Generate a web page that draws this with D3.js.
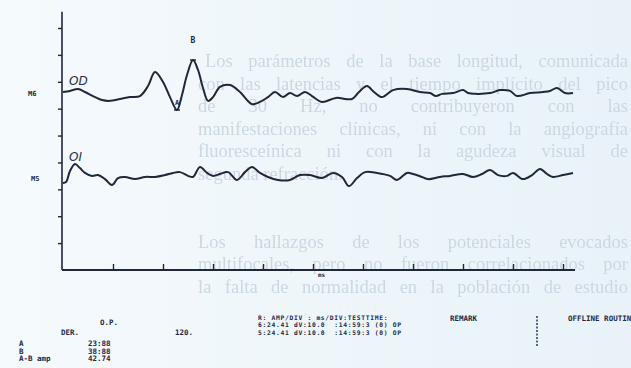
<!DOCTYPE html>
<html>
<head>
<meta charset="utf-8">
<script src="https://cdn.jsdelivr.net/npm/d3@7"></script>
<style>
  html, body { margin: 0; padding: 0; background: #eef6fa; }
  svg { display: block; }
</style>
</head>
<body>
<svg id="chart" width="631" height="368"></svg>
<script>
// Visual evoked potential record: two channels, latency in ms, amplitude in divisions.
const timeMs = [0, 7, 15, 22, 32, 39, 47, 57, 67, 77, 85, 92, 100, 107, 114, 119, 124, 130, 135, 140, 145, 150, 157, 167, 177, 189, 197, 205, 212, 220, 227, 234, 242, 249, 259, 273, 289, 296, 304, 311, 319, 330, 344, 357, 367, 373, 379, 390, 400, 405, 414, 427, 437, 447, 454, 467, 480, 487, 494, 502, 510];
const odValues = [6.62, 6.66, 6.73, 6.62, 6.43, 6.32, 6.29, 6.36, 6.43, 6.47, 6.84, 7.36, 6.99, 6.43, 5.95, 6.51, 7.25, 7.81, 7.44, 6.77, 6.29, 6.43, 6.81, 6.88, 6.62, 6.17, 6.25, 6.43, 6.62, 6.43, 6.58, 6.47, 6.62, 6.47, 6.25, 6.40, 6.36, 6.62, 6.84, 6.62, 6.43, 6.69, 6.73, 6.62, 6.58, 6.47, 6.55, 6.58, 6.69, 6.58, 6.55, 6.58, 6.69, 6.66, 6.47, 6.58, 6.62, 6.66, 6.77, 6.58, 6.58];

const oiTimeMs = [0, 3, 7, 12, 17, 22, 29, 35, 42, 49, 55, 62, 72, 82, 92, 102, 110, 117, 125, 130, 137, 144, 150, 157, 165, 174, 182, 189, 197, 205, 215, 227, 237, 247, 259, 270, 279, 286, 294, 302, 314, 327, 334, 344, 350, 359, 365, 377, 387, 400, 410, 419, 427, 435, 444, 450, 460, 469, 477, 484, 490, 500, 510];
const oiValues = [3.24, 3.27, 3.68, 3.94, 3.79, 3.61, 3.50, 3.53, 3.38, 3.16, 3.42, 3.46, 3.38, 3.46, 3.46, 3.53, 3.61, 3.64, 3.50, 3.46, 3.83, 3.61, 3.50, 3.57, 3.64, 3.35, 3.64, 3.83, 3.61, 3.46, 3.35, 3.35, 3.53, 3.53, 3.42, 3.61, 3.46, 3.12, 3.42, 3.64, 3.61, 3.50, 3.35, 3.61, 3.57, 3.46, 3.38, 3.46, 3.50, 3.57, 3.46, 3.57, 3.72, 3.53, 3.50, 3.61, 3.38, 3.53, 3.76, 3.57, 3.46, 3.53, 3.61];

const xTicks = [50, 100, 150, 200, 250, 300, 350, 400, 450, 500];
const yTicks = [1, 2, 3, 4, 5, 6, 7, 8, 9];

// Peak markers on the OD trace
const peakNames = ["A", "B"];
const peakTimes = [114, 130];
const peakValues = [5.95, 7.81];

// Printed report lines
const headerTexts = ["DER.", "O.P.", "120."];
const peakRowLabels = ["A", "B", "A-B amp"];
const peakRowValues = ["23:88", "38:88", "42.74"];
const settingLines = ["R: AMP/DIV : ms/DIV:TESTTIME:", "6:24.41 dV:10.0  :14:59:3 (0) OP", "5:24.41 dV:10.0  :14:59:3 (0) OP"];

// Text of the facing page showing through the paper (justified column)
const pageLines = [
  "Los parámetros de la base longitud, comunicada",
  "con las latencias y el tiempo implícito del pico",
  "de 30 Hz, no contribuyeron con las",
  "manifestaciones clínicas, ni con la angiografía",
  "fluoresceínica ni con la agudeza visual de",
  "segunda refracción.",
  "",
  "",
  "Los hallazgos de los potenciales evocados",
  "multifocales, pero no fueron correlacionados por",
  "la falta de normalidad en la población de estudio"
];
const pageLineEnds = [false, false, false, false, false, true, true, true, false, false, false];

const svg = d3.select("#chart");
const W = 631, H = 368;

const defs = svg.append("defs");
const grad = defs.append("linearGradient").attr("id", "paper").attr("x1", 0).attr("x2", 1).attr("y1", 0).attr("y2", 0);
grad.append("stop").attr("offset", "0%").attr("stop-color", "#f5fafd");
grad.append("stop").attr("offset", "100%").attr("stop-color", "#e8f2f8");
svg.append("rect").attr("width", W).attr("height", H).attr("fill", "url(#paper)");
defs.append("filter").attr("id", "soft").append("feGaussianBlur").attr("stdDeviation", 0.6);

// faint text from the other side of the sheet, justified by widening the word gaps
const colRight = 628;
svg.append("g").attr("filter", "url(#soft)")
  .selectAll("text")
  .data(pageLines)
  .join("text")
  .attr("x", (d, i) => i === 0 ? 205 : 198)
  .attr("y", (d, i) => 67 + i * 22.6)
  .attr("font-family", "Liberation Serif, serif")
  .attr("font-size", 18.5)
  .attr("fill", "#cbd8e1")
  .text(d => d)
  .each(function(d, i) {
    if (pageLineEnds[i] || !d) return;
    const gaps = d.split(" ").length - 1;
    const x0 = +this.getAttribute("x");
    const natural = this.getComputedTextLength();
    const extra = (colRight - x0 - natural) / gaps;
    if (gaps > 0 && extra > 0) d3.select(this).attr("word-spacing", extra);
  });

const ink = "#1f2838";

const x = d3.scaleLinear().domain([0, 512]).range([63, 575]);
const y = d3.scaleLinear().domain([0, 9]).range([270, 28]);

// y axis with ticks to the left
const yAxis = d3.axisLeft(y).tickValues(yTicks).tickSize(4).tickFormat("");
const gy = svg.append("g").attr("transform", `translate(${x(0) - 1},0)`).call(yAxis);
gy.select(".domain").attr("d", `M0,${y(9.6)}V${y(0)}`).attr("stroke", ink).attr("stroke-width", 1.6);
gy.selectAll(".tick line").attr("stroke", ink).attr("stroke-width", 1.4);

// x axis with ticks pointing up
const xAxis = d3.axisTop(x).tickValues(xTicks).tickSize(6).tickFormat("");
const gx = svg.append("g").attr("transform", `translate(0,${y(0)})`).call(xAxis);
gx.select(".domain").attr("d", `M${x(0) - 1},0H${x(512)}`).attr("stroke", ink).attr("stroke-width", 1.8);
gx.selectAll(".tick line").attr("stroke", ink).attr("stroke-width", 1.4);

svg.append("text").attr("x", x(255)).attr("y", y(0) + 7)
  .attr("font-family", "DejaVu Sans Mono, monospace").attr("font-weight", "bold")
  .attr("font-size", 6).attr("fill", ink).text("ms");

const line = d3.line().curve(d3.curveCatmullRom.alpha(0.5));

svg.append("path")
  .attr("d", line(timeMs.map((t, i) => [x(t), y(odValues[i])])))
  .attr("fill", "none").attr("stroke", ink).attr("stroke-width", 2)
  .attr("stroke-linejoin", "round");

svg.append("path")
  .attr("d", line(oiTimeMs.map((t, i) => [x(t), y(oiValues[i])])))
  .attr("fill", "none").attr("stroke", ink).attr("stroke-width", 2)
  .attr("stroke-linejoin", "round");

// channel names
const chanFont = "DejaVu Sans Mono, monospace";
svg.append("text").attr("x", 28).attr("y", y(odValues[0]) + 4)
  .attr("font-family", chanFont).attr("font-weight", "bold").attr("font-size", 7).attr("fill", ink).text("M6");
svg.append("text").attr("x", 31).attr("y", y(oiValues[0]) - 2)
  .attr("font-family", chanFont).attr("font-weight", "bold").attr("font-size", 7).attr("fill", ink).text("M5");

// handwritten eye labels
svg.append("text").attr("x", 69).attr("y", y(odValues[2]) - 4)
  .attr("font-family", "DejaVu Sans, sans-serif").attr("font-style", "italic")
  .attr("font-size", 12).attr("fill", "#26324a").text("OD");
svg.append("text").attr("x", 69).attr("y", y(oiValues[3]) - 3)
  .attr("font-family", "DejaVu Sans, sans-serif").attr("font-style", "italic")
  .attr("font-size", 12).attr("fill", "#26324a").text("OI");

// peak marks
const peaks = svg.append("g");
peakNames.forEach((name, i) => {
  const px = x(peakTimes[i]), py = y(peakValues[i]);
  peaks.append("line").attr("x1", px - 3).attr("x2", px + 3).attr("y1", py).attr("y2", py)
    .attr("stroke", ink).attr("stroke-width", 1.4);
  peaks.append("text")
    .attr("x", px).attr("y", i === 0 ? py - 5 : py - 17)
    .attr("text-anchor", "middle")
    .attr("font-family", chanFont).attr("font-weight", "bold")
    .attr("font-size", i === 0 ? 7 : 8).attr("fill", ink).text(name);
});

// printed report
const pf = { family: "DejaVu Sans Mono, monospace", size: 7.5 };
function printed(sel, tx, ty, s, size, spacing) {
  return sel.append("text").attr("x", tx).attr("y", ty)
    .attr("font-family", pf.family).attr("font-weight", "bold")
    .attr("font-size", size || pf.size).attr("letter-spacing", spacing || 0)
    .attr("fill", "#1d2744").attr("xml:space", "preserve").text(s);
}
const rep = svg.append("g");
printed(rep, 61, 335, headerTexts[0]);
printed(rep, 100, 325, headerTexts[1]);
printed(rep, 175, 335, headerTexts[2]);
peakRowLabels.forEach((s, i) => printed(rep, 19, 346 + i * 7.5, s));
peakRowValues.forEach((s, i) => printed(rep, 88, 346 + i * 7.5, s));
settingLines.forEach((s, i) => printed(rep, 258, 320 + i * 7.4, s, 6.3, 0.7));
printed(rep, 450, 321, "REMARK");
printed(rep, 568, 321, "OFFLINE ROUTINE");
rep.append("line").attr("x1", 537).attr("x2", 537).attr("y1", 316).attr("y2", 347)
  .attr("stroke", "#1d2744").attr("stroke-width", 1.4).attr("stroke-dasharray", "2,1.5");
</script>
</body>
</html>
